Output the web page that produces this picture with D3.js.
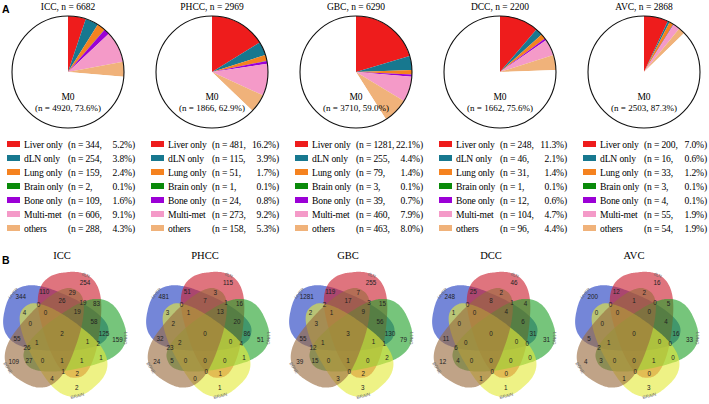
<!DOCTYPE html>
<html>
<head>
<meta charset="utf-8">
<script src="https://cdn.jsdelivr.net/npm/d3@7"></script>
<style>
  body { margin: 0; background: #fff; }
  svg { display: block; }
</style>
</head>
<body>
<div id="chart"></div>
<script>
// ---- data ----
const cohorts = ["ICC", "PHCC", "GBC", "DCC", "AVC"];
const totals = [6682, 2969, 6290, 2200, 2868];

const groups = ["Liver only", "dLN only", "Lung only", "Brain only", "Bone only", "Multi-met", "others", "M0"];
const groupColors = ["#ee1c1c", "#17788f", "#f5821f", "#0a8a0a", "#9b00d6", "#f49ac8", "#f0b27a", "#ffffff"];

const nICC  = [344, 254, 159, 2, 109, 606, 288, 4920];
const nPHCC = [481, 115, 51, 1, 24, 273, 158, 1866];
const nGBC  = [1281, 255, 79, 3, 39, 460, 463, 3710];
const nDCC  = [248, 46, 31, 1, 12, 104, 96, 1662];
const nAVC  = [200, 16, 33, 3, 4, 55, 54, 2503];

const pctICC  = ["5.2", "3.8", "2.4", "0.1", "1.6", "9.1", "4.3", "73.6"];
const pctPHCC = ["16.2", "3.9", "1.7", "0.1", "0.8", "9.2", "5.3", "62.9"];
const pctGBC  = ["22.1", "4.4", "1.4", "0.1", "0.7", "7.9", "8.0", "59.0"];
const pctDCC  = ["11.3", "2.1", "1.4", "0.1", "0.6", "4.7", "4.4", "75.6"];
const pctAVC  = ["7.0", "0.6", "1.2", "0.1", "0.1", "1.9", "1.9", "87.3"];

// venn sets, region counts indexed by bitmask-1 (LIVER=1, dLN=2, LUNG=4, BRAIN=8, BONE=16)
const sets = ["LIVER", "dLN", "LUNG", "BRAIN", "BONE"];
const setColors = ["#1f3cc0", "#cc1f2e", "#22a22a", "#e4ea3a", "#9a6a3e"];

const vennICC  = [344, 254, 110, 159, 125, 83, 58, 2, 4, 2, 0, 1, 2, 1, 1, 109, 55, 29, 26, 27, 26, 19, 19, 4, 0, 1, 0, 0, 1, 1, 2];
const vennPHCC = [481, 115, 51, 51, 86, 16, 20, 1, 3, 1, 0, 1, 4, 0, 0, 24, 32, 3, 7, 5, 23, 1, 13, 0, 2, 0, 1, 0, 2, 0, 0];
const vennGBC  = [1281, 255, 119, 79, 130, 15, 56, 3, 2, 2, 2, 2, 1, 0, 1, 39, 55, 7, 17, 15, 12, 3, 9, 3, 3, 0, 1, 0, 1, 1, 3];
const vennDCC  = [248, 46, 25, 31, 31, 4, 6, 1, 1, 0, 0, 0, 0, 0, 0, 12, 11, 2, 8, 4, 6, 1, 4, 1, 0, 0, 0, 0, 0, 0, 0];
const vennAVC  = [200, 16, 12, 33, 16, 5, 4, 3, 0, 0, 0, 0, 0, 1, 0, 4, 5, 2, 1, 3, 2, 0, 0, 1, 0, 0, 0, 0, 1, 0, 0];

const groupN = [nICC, nPHCC, nGBC, nDCC, nAVC];
const groupPct = [pctICC, pctPHCC, pctGBC, pctDCC, pctAVC];
const vennCounts = [vennICC, vennPHCC, vennGBC, vennDCC, vennAVC];

// ---- layout ----
const W = 709, H = 404;
const serif = "'Liberation Serif', 'Times New Roman', serif";
const sans = "'Liberation Sans', Arial, sans-serif";

const svg = d3.select("#chart").append("svg")
  .attr("width", W).attr("height", H)
  .style("background", "#fff");

const pieX = d3.scalePoint().domain(cohorts).range([68, 644]);
const vennX = d3.scalePoint().domain(cohorts).range([62, 634]);
const pieY = 72, pieR = 56;
const vennY = 334, vennR = 53;
const rowY = d3.scaleLinear().domain([0, 1]).range([144, 158]);

// panel letters
svg.append("text").attr("x", 2).attr("y", 13).text("A")
  .style("font-family", sans).style("font-weight", "bold").style("font-size", "10.5px");
svg.append("text").attr("x", 2).attr("y", 264).text("B")
  .style("font-family", sans).style("font-weight", "bold").style("font-size", "10.5px");

// ---- pies + legends ----
const pie = d3.pie().sort(null).value(d => d);
const arc = d3.arc().innerRadius(0).outerRadius(pieR);

cohorts.forEach((c, i) => {
  const px = pieX(c);
  const g = svg.append("g").attr("transform", `translate(${px},${pieY})`);

  g.selectAll("path")
    .data(pie(groupN[i]))
    .join("path")
    .attr("d", arc)
    .attr("fill", (d, j) => groupColors[j]);

  g.append("circle").attr("r", pieR)
    .attr("fill", "none").attr("stroke", "#111").attr("stroke-width", 1.1);

  svg.append("text")
    .attr("x", px).attr("y", 10)
    .attr("text-anchor", "middle")
    .style("font-family", serif).style("font-size", "9.5px")
    .text(`${c}, n = ${totals[i]}`);

  g.append("text").attr("y", 28).attr("text-anchor", "middle")
    .style("font-family", serif).style("font-size", "9.5px").text("M0");
  g.append("text").attr("y", 39).attr("text-anchor", "middle")
    .style("font-family", serif).style("font-size", "9px")
    .text(`(n = ${groupN[i][7]}, ${groupPct[i][7]}%)`);

  // legend (all but M0)
  const endX = Math.min(px + 67, W - 2);
  const lg = svg.append("g").style("font-family", serif).style("font-size", "9.6px")
    .style("letter-spacing", "-0.15px");
  groups.slice(0, 7).forEach((name, j) => {
    const y = rowY(j);
    lg.append("rect").attr("x", px - 61).attr("y", y - 3).attr("width", 13).attr("height", 6)
      .attr("fill", groupColors[j]);
    lg.append("text").attr("x", px - 44).attr("y", y + 3.5).text(name);
    lg.append("text").attr("x", px).attr("y", y + 3.5).text(`(n = ${groupN[i][j]},`);
    lg.append("text").attr("x", endX).attr("y", y + 3.5).attr("text-anchor", "end")
      .text(`${groupPct[i][j]}%)`);
  });
});

// ---- venn geometry (unit coordinates, y down) ----
const SA = 1, SB = 0.55, SE = 0.33, SN = 2.5;
const baseOff = [-0.107, -0.223], baseAng = 12.8;
const shapes = sets.map((s, k) => {
  const a = 72 * k * Math.PI / 180;
  const phi = (baseAng + 72 * k) * Math.PI / 180;
  return {
    cx: baseOff[0] * Math.cos(a) - baseOff[1] * Math.sin(a),
    cy: baseOff[0] * Math.sin(a) + baseOff[1] * Math.cos(a),
    cos: Math.cos(phi), sin: Math.sin(phi)
  };
});

function shapeF(s, px, py) {
  const dx = px - s.cx, dy = py - s.cy;
  const u = (dx * s.cos + dy * s.sin) / SA;
  const v = -dx * s.sin + dy * s.cos;
  const w = SB * (1 - SE * u);
  return Math.pow(Math.abs(u), SN) + Math.pow(Math.abs(v / w), SN);
}

function outline(s) {
  const pts = [];
  for (let i = 0; i < 160; i++) {
    const t = i / 160 * 2 * Math.PI;
    const c = Math.cos(t), sn = Math.sin(t);
    const cu = Math.sign(c) * Math.pow(Math.abs(c), 2 / SN);
    const sv = Math.sign(sn) * Math.pow(Math.abs(sn), 2 / SN);
    const u = SA * cu, v = SB * sv * (1 - SE * cu);
    pts.push([s.cx + u * s.cos - v * s.sin, s.cy + u * s.sin + v * s.cos]);
  }
  return pts;
}

// label spot of each region: grid point deepest inside it
const best = new Array(32).fill(null);
const hstep = 0.004;
for (let gx = -1.45; gx <= 1.45; gx += 0.012) {
  for (let gy = -1.45; gy <= 1.45; gy += 0.012) {
    let mask = 0, depth = Infinity;
    shapes.forEach((s, k) => {
      const f = shapeF(s, gx, gy);
      if (f < 1) mask |= (1 << k);
      const fx = (shapeF(s, gx + hstep, gy) - shapeF(s, gx - hstep, gy)) / (2 * hstep);
      const fy = (shapeF(s, gx, gy + hstep) - shapeF(s, gx, gy - hstep)) / (2 * hstep);
      const d = Math.abs(f - 1) / (Math.hypot(fx, fy) || 1e-6);
      depth = Math.min(depth, d);
    });
    if (mask && (!best[mask] || depth > best[mask].d)) best[mask] = { x: gx, y: gy, d: depth };
  }
}

// ---- draw venns ----
cohorts.forEach((c, i) => {
  const cx = vennX(c);
  const vx = d3.scaleLinear().domain([-1, 1]).range([cx - vennR, cx + vennR]);
  const vy = d3.scaleLinear().domain([-1, 1]).range([vennY - vennR, vennY + vennR]);
  const line = d3.line().x(p => vx(p[0])).y(p => vy(p[1])).curve(d3.curveCardinalClosed);

  svg.append("text")
    .attr("x", cx).attr("y", 259).attr("text-anchor", "middle")
    .style("font-family", serif).style("font-size", "10.5px").text(c);

  const g = svg.append("g");
  g.selectAll("path")
    .data(shapes)
    .join("path")
    .attr("d", s => line(outline(s)))
    .attr("fill", (s, k) => setColors[k])
    .attr("fill-opacity", 0.62)
    .attr("stroke", "none");

  // set names
  sets.forEach((name, k) => {
    const a = (-140 + 72 * k) * Math.PI / 180;
    let rot = -50 + 72 * k;
    if (rot > 95) rot -= 180;
    const x = vx(1.2 * Math.cos(a)), y = vy(1.2 * Math.sin(a));
    g.append("text")
      .attr("transform", `translate(${x},${y}) rotate(${rot})`)
      .attr("text-anchor", "middle").attr("dy", "0.35em")
      .style("font-family", sans).style("font-size", "4.5px").style("fill", "#666")
      .text(name);
  });

  // region counts
  vennCounts[i].forEach((v, m) => {
    const p = best[m + 1];
    if (!p) return;
    g.append("text")
      .attr("x", vx(p.x)).attr("y", vy(p.y))
      .attr("text-anchor", "middle").attr("dy", "0.35em")
      .style("font-family", sans).style("font-size", "6.3px").style("fill", "#222")
      .text(v);
  });
});
</script>
</body>
</html>
